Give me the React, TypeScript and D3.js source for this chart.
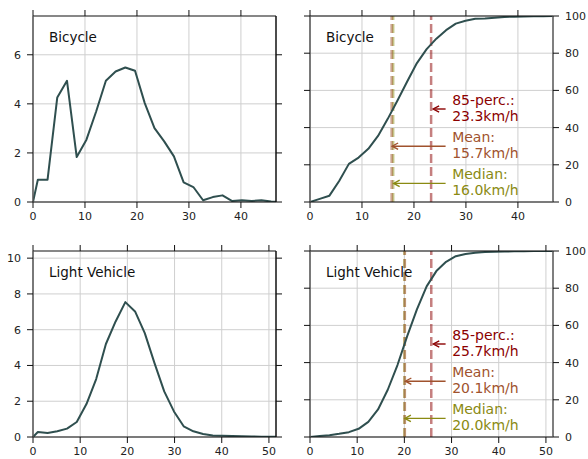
import React from "react";
import * as d3 from "d3";

// ---------- data ----------
const bikePdfX = [0, 0.93, 2.8, 4.67, 6.54, 8.41, 10.28, 12.15, 14.02, 15.89, 17.76, 19.63, 21.5, 23.37, 25.24, 27.11, 28.98, 30.85, 32.72, 34.59, 36.46, 38.33, 40.2, 42.07, 43.94, 45.81, 46.75];
const bikePdfY = [0, 0.91, 0.91, 4.26, 4.94, 1.83, 2.54, 3.69, 4.94, 5.32, 5.48, 5.35, 4.03, 3.01, 2.47, 1.86, 0.8, 0.61, 0.07, 0.2, 0.27, 0.04, 0.07, 0.04, 0.07, 0.02, 0.01];
const bikeCdfX = [0, 1.87, 3.74, 5.61, 7.48, 9.35, 11.22, 13.09, 14.96, 16.83, 18.7, 20.57, 22.44, 24.31, 26.18, 28.05, 29.92, 31.79, 33.66, 35.53, 37.4, 39.27, 41.14, 43.01, 44.88, 46.75];
const bikeCdfY = [0, 1.7, 3.4, 11.3, 20.5, 23.9, 28.6, 35.5, 44.7, 54.6, 64.8, 74.7, 82.2, 87.8, 92.4, 95.9, 97.4, 98.5, 98.6, 99.0, 99.5, 99.6, 99.7, 99.8, 99.9, 100];

const lvPdfX = [0, 1.03, 3.09, 5.15, 7.21, 9.27, 11.33, 13.39, 15.45, 17.51, 19.57, 21.63, 23.69, 25.75, 27.81, 29.87, 31.93, 33.99, 36.05, 38.11, 40.17, 42.23, 44.29, 46.35, 48.41, 50.47, 51.5];
const lvPdfY = [0, 0.28, 0.22, 0.32, 0.47, 0.84, 1.84, 3.24, 5.2, 6.46, 7.54, 7.02, 5.81, 4.13, 2.55, 1.43, 0.6, 0.32, 0.17, 0.09, 0.07, 0.05, 0.04, 0.03, 0.02, 0.02, 0.02];
const lvCdfX = [0, 2.06, 4.12, 6.18, 8.24, 10.3, 12.36, 14.42, 16.48, 18.54, 20.6, 22.66, 24.72, 26.78, 28.84, 30.9, 32.96, 35.02, 37.08, 39.14, 41.2, 43.26, 45.32, 47.38, 49.44, 51.5];
const lvCdfY = [0, 0.6, 1.0, 1.7, 2.6, 4.4, 8.1, 14.8, 25.4, 38.7, 54.2, 68.6, 81.0, 89.2, 94.2, 97.2, 98.4, 99.0, 99.4, 99.6, 99.7, 99.8, 99.9, 99.95, 100, 100];

const bikeStats = { p85: 23.3, mean: 15.7, median: 16.0 };
const lvStats = { p85: 25.7, mean: 20.1, median: 20.0 };

const bikeXTicks = [0, 10, 20, 30, 40];
const lvXTicks = [0, 10, 20, 30, 40, 50];
const bikePdfYTicks = [0, 2, 4, 6];
const lvPdfYTicks = [0, 2, 4, 6, 8, 10];
const cdfYTicks = [0, 20, 40, 60, 80, 100];

const titles = ["Bicycle", "Light Vehicle"];

// ---------- styling ----------
const FONT = "DejaVu Sans, sans-serif";
const LINE = "#2F4F4F";
const GRID = "#cfcfcf";
const C85 = "#8B0000";
const CMEAN = "#A0522D";
const CMED = "#8a8a12";

type Panel = {
  x0: number; x1: number; y0: number; y1: number;
  xMax: number; yMax: number;
  xs: number[]; ys: number[];
  xTicks: number[]; yTicks: number[];
  right: boolean; title: string;
  stats?: { p85: number; mean: number; median: number };
};

const panels: Panel[] = [
  { x0: 33, x1: 276, y0: 16, y1: 202, xMax: 46.75, yMax: 7.58, xs: bikePdfX, ys: bikePdfY, xTicks: bikeXTicks, yTicks: bikePdfYTicks, right: false, title: titles[0] },
  { x0: 310, x1: 553, y0: 16, y1: 202, xMax: 46.75, yMax: 100, xs: bikeCdfX, ys: bikeCdfY, xTicks: bikeXTicks, yTicks: cdfYTicks, right: true, title: titles[0], stats: bikeStats },
  { x0: 33, x1: 276, y0: 251, y1: 437, xMax: 51.5, yMax: 10.4, xs: lvPdfX, ys: lvPdfY, xTicks: lvXTicks, yTicks: lvPdfYTicks, right: false, title: titles[1] },
  { x0: 310, x1: 553, y0: 251, y1: 437, xMax: 51.5, yMax: 100, xs: lvCdfX, ys: lvCdfY, xTicks: lvXTicks, yTicks: cdfYTicks, right: true, title: titles[1], stats: lvStats },
];

function fmt(v: number) {
  return v.toFixed(1) + "km/h";
}

function PanelView({ p, idx }: { p: Panel; idx: number }) {
  const x = d3.scaleLinear().domain([0, p.xMax]).range([p.x0, p.x1]);
  const y = d3.scaleLinear().domain([0, p.yMax]).range([p.y1, p.y0]);
  const pts: [number, number][] = p.xs.map((v, i) => [v, p.ys[i]]);
  const line = d3.line<[number, number]>().x((d) => x(d[0])).y((d) => y(d[1]));
  const TL = 6;
  const clipId = `clip${idx}`;

  const annot: { label: string; val: number; color: string; yv: number }[] = [];
  if (p.stats) {
    annot.push({ label: "85-perc.:", val: p.stats.p85, color: C85, yv: 50 });
    annot.push({ label: "Mean:", val: p.stats.mean, color: CMEAN, yv: 30 });
    annot.push({ label: "Median:", val: p.stats.median, color: CMED, yv: 10 });
  }
  const textX = p.x0 + 0.585 * (p.x1 - p.x0);
  const tailX = p.x0 + 0.558 * (p.x1 - p.x0);

  return (
    <g>
      <defs>
        <clipPath id={clipId}>
          <rect x={p.x0} y={p.y0} width={p.x1 - p.x0} height={p.y1 - p.y0} />
        </clipPath>
      </defs>
      {/* grid */}
      {p.xTicks.map((t) => (
        <line key={"gx" + t} x1={x(t)} x2={x(t)} y1={p.y0} y2={p.y1} stroke={GRID} strokeWidth={1} />
      ))}
      {p.yTicks.map((t) => (
        <line key={"gy" + t} x1={p.x0} x2={p.x1} y1={y(t)} y2={y(t)} stroke={GRID} strokeWidth={1} />
      ))}
      {/* stat lines */}
      {p.stats && (
        <g clipPath={`url(#${clipId})`}>
          {[
            { v: p.stats.median, c: CMED },
            { v: p.stats.mean, c: CMEAN },
            { v: p.stats.p85, c: C85 },
          ].map((s, i) => (
            <line key={"s" + i} x1={x(s.v)} x2={x(s.v)} y1={p.y1} y2={p.y0} stroke={s.c} strokeOpacity={0.5} strokeWidth={2.5} strokeDasharray="9,4" />
          ))}
        </g>
      )}
      {/* data line */}
      <path d={line(pts) || ""} fill="none" stroke={LINE} strokeWidth={2} clipPath={`url(#${clipId})`} strokeLinejoin="round" />
      {/* annotations */}
      {annot.map((a, i) => {
        const ay = y(a.yv);
        const hx = x(a.val) + (i === 0 ? 2 : 0.5);
        return (
          <g key={"a" + i}>
            <line x1={tailX} x2={hx + 1} y1={ay} y2={ay} stroke={a.color} strokeWidth={1.4} />
            <path d={`M${hx + 6},${ay - 3.2} L${hx},${ay} L${hx + 6},${ay + 3.2}`} fill="none" stroke={a.color} strokeWidth={1.4} />
            <text x={textX} y={ay - 4} fill={a.color} fontFamily={FONT} fontSize={14}>
              {a.label}
            </text>
            <text x={textX} y={ay + 12} fill={a.color} fontFamily={FONT} fontSize={14}>
              {fmt(a.val)}
            </text>
          </g>
        );
      })}
      {/* spines */}
      <line x1={p.x0} x2={p.x1} y1={p.y0} y2={p.y0} stroke="#111" strokeWidth={1.2} />
      <line x1={p.x0} x2={p.x1} y1={p.y1} y2={p.y1} stroke="#111" strokeWidth={1.2} />
      <line x1={p.x0} x2={p.x0} y1={p.y0} y2={p.y1} stroke="#555" strokeWidth={1.5} />
      <line x1={p.x1} x2={p.x1} y1={p.y0} y2={p.y1} stroke={p.right ? "#555" : "#111"} strokeWidth={1.5} />
      {/* ticks */}
      {p.xTicks.map((t) => (
        <g key={"tx" + t}>
          <line x1={x(t)} x2={x(t)} y1={p.y1} y2={p.y1 + TL} stroke="#111" strokeWidth={1} />
          <line x1={x(t)} x2={x(t)} y1={p.y0} y2={p.y0 - TL} stroke="#111" strokeWidth={1} />
          <text x={x(t)} y={p.y1 + 18} textAnchor="middle" fontFamily={FONT} fontSize={11} fill="#222">
            {t}
          </text>
        </g>
      ))}
      {p.yTicks.map((t) => (
        <g key={"ty" + t}>
          <line x1={p.x0 - TL} x2={p.x0} y1={y(t)} y2={y(t)} stroke="#111" strokeWidth={1} />
          <line x1={p.x1} x2={p.x1 + TL} y1={y(t)} y2={y(t)} stroke="#111" strokeWidth={1} />
          <text
            x={p.right ? p.x1 + 12 : p.x0 - 12}
            y={y(t)}
            dy="0.36em"
            textAnchor={p.right ? "start" : "end"}
            fontFamily={FONT}
            fontSize={11}
            fill="#222"
          >
            {t}
          </text>
        </g>
      ))}
      {/* title */}
      <text x={p.x0 + 16} y={p.y0 + 26} fontFamily={FONT} fontSize={13.5} fill="#111">
        {p.title}
      </text>
    </g>
  );
}

export default function App() {
  return (
    <svg width={588} height={459} style={{ position: "absolute", left: 0, top: 0, background: "#fff" }}>
      <rect x={0} y={0} width={588} height={459} fill="#fff" />
      {panels.map((p, i) => (
        <PanelView key={i} p={p} idx={i} />
      ))}
    </svg>
  );
}
